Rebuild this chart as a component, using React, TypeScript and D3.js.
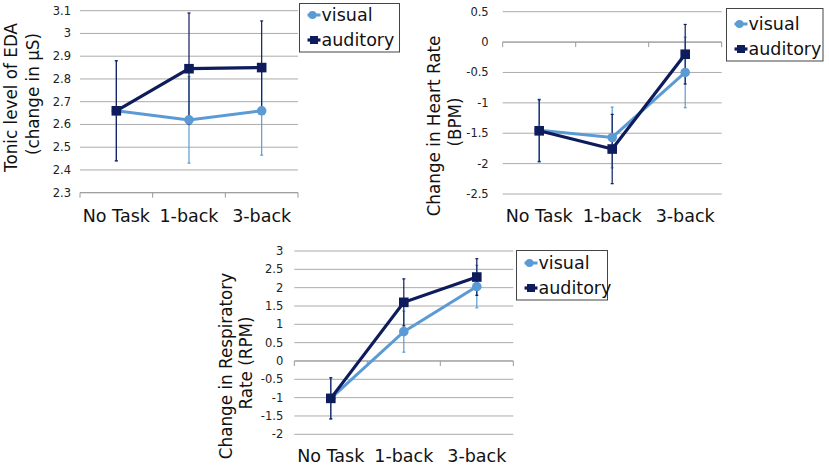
import React from "react";
import * as d3 from "d3";

const categories = ["No Task", "1-back", "3-back"];
const seriesNames = ["visual", "auditory"];

// Panel 1: EDA
const edaVisual = [2.66, 2.62, 2.66];
const edaVisualErr = [0.22, 0.19, 0.195];
const edaAuditory = [2.66, 2.845, 2.85];
const edaAuditoryErr = [0.22, 0.245, 0.205];
const edaTicks = [2.3, 2.4, 2.5, 2.6, 2.7, 2.8, 2.9, 3, 3.1];

// Panel 2: Heart rate
const hrVisual = [-1.45, -1.57, -0.5];
const hrVisualErr = [0.51, 0.5, 0.58];
const hrAuditory = [-1.46, -1.76, -0.2];
const hrAuditoryErr = [0.51, 0.57, 0.49];
const hrTicks = [-2.5, -2, -1.5, -1, -0.5, 0, 0.5];

// Panel 3: Respiratory rate
const rrVisual = [-1.02, 0.8, 2.03];
const rrVisualErr = [0.56, 0.56, 0.58];
const rrAuditory = [-1.02, 1.6, 2.29];
const rrAuditoryErr = [0.56, 0.64, 0.5];
const rrTicks = [-2, -1.5, -1, -0.5, 0, 0.5, 1, 1.5, 2, 2.5, 3];

const VIS = "#5b9bd5";
const AUD = "#0e1c5c";
const GRID = "#ababab";
const FONT = "Verdana, 'DejaVu Sans', sans-serif";

type PanelProps = {
  x0: number; x1: number; yTop: number; yBot: number;
  domain: [number, number]; ticks: number[]; axisAt: number;
  tickGap: number; catBaseline: number;
  vis: number[]; visErr: number[]; aud: number[]; audErr: number[];
  titles: { text: string; x: number; y: number }[];
  legend: { x: number; y: number; w: number; h: number; rows: number[] };
};

function Panel(p: PanelProps) {
  const x = d3.scaleBand<string>().domain(categories).range([p.x0, p.x1]).padding(0);
  const y = d3.scaleLinear().domain(p.domain).range([p.yBot, p.yTop]);
  const cx = (c: string) => (x(c) as number) + x.bandwidth() / 2;
  const line = d3.line<number>().x((_, i) => cx(categories[i])).y((v) => y(v));
  const boundaries = [...categories.map((c) => x(c) as number), p.x1];
  const series = [
    { name: seriesNames[0], vals: p.vis, errs: p.visErr, color: VIS, sq: false, w: 3 },
    { name: seriesNames[1], vals: p.aud, errs: p.audErr, color: AUD, sq: true, w: 3.2 },
  ];
  return (
    <g>
      {p.ticks.map((t) => (
        <g key={t}>
          <line x1={p.x0} x2={p.x1} y1={y(t)} y2={y(t)} stroke={GRID} strokeWidth={1} />
          <text x={p.x0 - p.tickGap} y={y(t)} dy="0.35em" textAnchor="end" fontSize={11.5} fill="#222" fontFamily={FONT}>
            {t}
          </text>
        </g>
      ))}
      <line x1={p.x0} x2={p.x1} y1={y(p.axisAt)} y2={y(p.axisAt)} stroke="#9a9a9a" strokeWidth={1} />
      {boundaries.map((b, i) => (
        <line key={i} x1={b} x2={b} y1={y(p.axisAt)} y2={y(p.axisAt) + 5} stroke="#9a9a9a" strokeWidth={1} />
      ))}
      {categories.map((c) => (
        <text key={c} x={cx(c)} y={p.catBaseline} textAnchor="middle" fontSize={17.5} fill="#111" fontFamily={FONT}>
          {c}
        </text>
      ))}
      {p.titles.map((t, i) => (
        <text key={i} transform={`translate(${t.x},${t.y}) rotate(-90)`} textAnchor="middle" fontSize={16.8} fill="#111" fontFamily={FONT}>
          {t.text}
        </text>
      ))}
      {series.map((s) => (
        <g key={s.name + "err"}>
          {s.vals.map((v, i) => {
            const xc = cx(categories[i]);
            const hi = y(v + s.errs[i]);
            const lo = y(v - s.errs[i]);
            return (
              <g key={i}>
                <line x1={xc} x2={xc} y1={hi} y2={lo} stroke={s.color} strokeWidth={1.2} />
                <line x1={xc - 1.5} x2={xc + 1.5} y1={hi} y2={hi} stroke={s.color} strokeWidth={1.2} />
                <line x1={xc - 1.5} x2={xc + 1.5} y1={lo} y2={lo} stroke={s.color} strokeWidth={1.2} />
              </g>
            );
          })}
        </g>
      ))}
      {series.map((s) => (
        <g key={s.name}>
          <path d={line(s.vals) as string} fill="none" stroke={s.color} strokeWidth={s.w} />
          {s.vals.map((v, i) =>
            s.sq ? (
              <rect key={i} x={cx(categories[i]) - 4.8} y={y(v) - 4.8} width={9.6} height={9.6} fill={s.color} />
            ) : (
              <circle key={i} cx={cx(categories[i])} cy={y(v)} r={4.8} fill={s.color} />
            )
          )}
        </g>
      ))}
      <rect x={p.legend.x} y={p.legend.y} width={p.legend.w} height={p.legend.h} fill="#fff" stroke="#444" strokeWidth={1} />
      {series.map((s, i) => {
        const ly = p.legend.rows[i];
        const lx = p.legend.x + 8;
        return (
          <g key={s.name + "leg"}>
            <line x1={lx} x2={lx + 13} y1={ly} y2={ly} stroke={s.color} strokeWidth={s.w} />
            {s.sq ? (
              <rect x={lx + 6.5 - 4} y={ly - 4} width={8} height={8} fill={s.color} />
            ) : (
              <circle cx={lx + 5} cy={ly} r={4} fill={s.color} />
            )}
            <text x={lx + 14} y={ly} dy="0.35em" fontSize={17.5} fill="#111" fontFamily={FONT}>
              {s.name}
            </text>
          </g>
        );
      })}
    </g>
  );
}

export default function App() {
  return (
    <div style={{ position: "absolute", left: 0, top: 0 }}>
      <svg width={829} height={466} style={{ display: "block", background: "#fff" }}>
        <Panel
          x0={80} x1={298} yTop={10.7} yBot={192.7} domain={[2.3, 3.1]} ticks={edaTicks} axisAt={2.3}
          tickGap={9} catBaseline={222}
          vis={edaVisual} visErr={edaVisualErr} aud={edaAuditory} audErr={edaAuditoryErr}
          titles={[{ text: "Tonic level of EDA", x: 17, y: 97.5 }, { text: "(change in μS)", x: 39, y: 94 }]}
          legend={{ x: 299.5, y: 3.5, w: 100, h: 48.5, rows: [15, 40] }}
        />
        <Panel
          x0={502.7} x1={721.7} yTop={11.7} yBot={194} domain={[-2.5, 0.5]} ticks={hrTicks} axisAt={0}
          tickGap={14} catBaseline={222}
          vis={hrVisual} visErr={hrVisualErr} aud={hrAuditory} audErr={hrAuditoryErr}
          titles={[{ text: "Change in Heart Rate", x: 439.5, y: 126 }, { text: "(BPM)", x: 461, y: 122 }]}
          legend={{ x: 726.5, y: 8.5, w: 96.5, h: 52.5, rows: [24, 49] }}
        />
        <Panel
          x0={294.3} x1={513.3} yTop={251} yBot={434.3} domain={[-2, 3]} ticks={rrTicks} axisAt={0}
          tickGap={11} catBaseline={461.5}
          vis={rrVisual} visErr={rrVisualErr} aud={rrAuditory} audErr={rrAuditoryErr}
          titles={[{ text: "Change in Respiratory", x: 232, y: 366 }, { text: "Rate (RPM)", x: 252, y: 363 }]}
          legend={{ x: 516.5, y: 250.5, w: 91, h: 49.5, rows: [263, 288] }}
        />
      </svg>
    </div>
  );
}
